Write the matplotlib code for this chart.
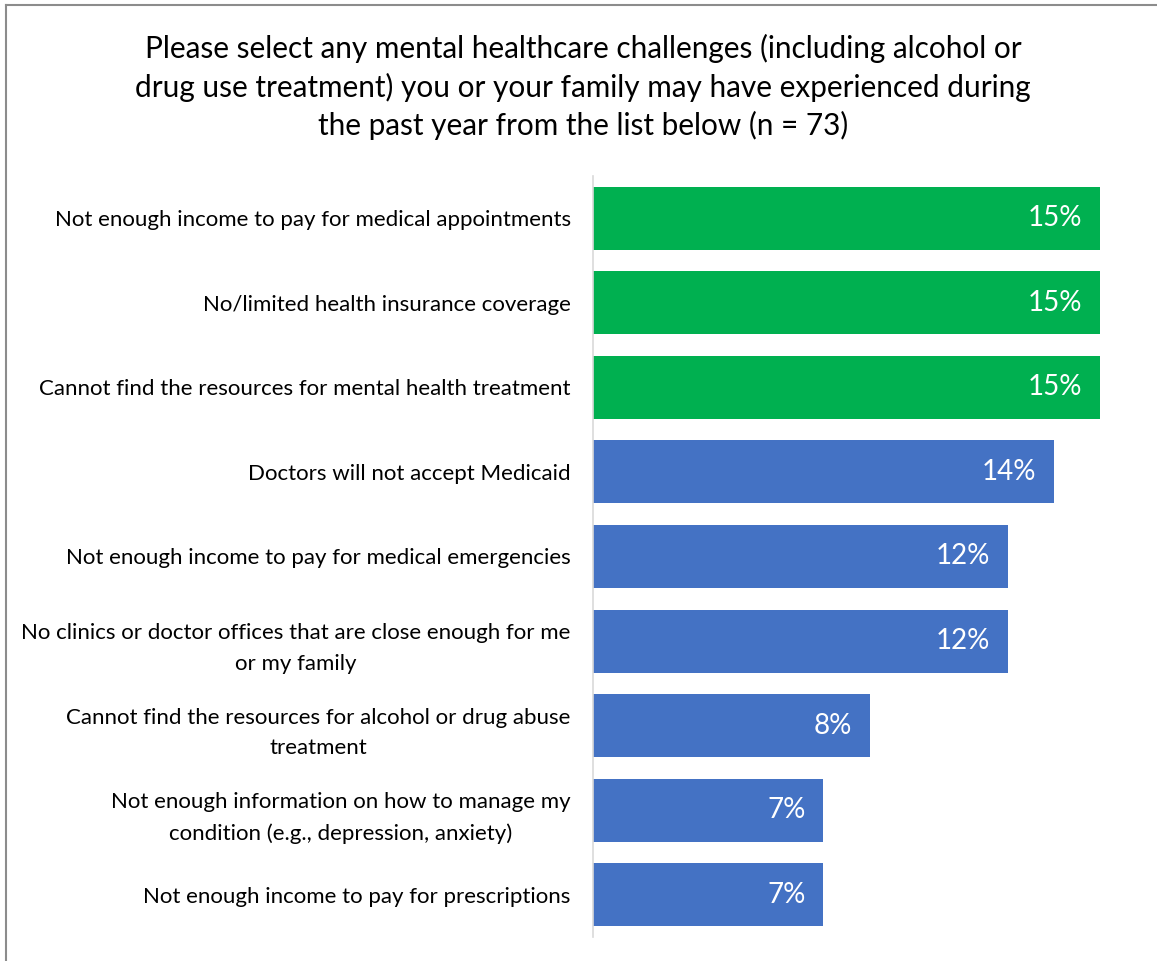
import matplotlib
matplotlib.use("Agg")
import matplotlib.pyplot as plt
from matplotlib.lines import Line2D

categories = [
    "Not enough income to pay for medical appointments",
    "No/limited health insurance coverage",
    "Cannot find the resources for mental health treatment",
    "Doctors will not accept Medicaid",
    "Not enough income to pay for medical emergencies",
    "No clinics or doctor offices that are close enough for me\nor my family",
    "Cannot find the resources for alcohol or drug abuse\ntreatment",
    "Not enough information on how to manage my\ncondition (e.g., depression, anxiety)",
    "Not enough income to pay for prescriptions",
]
values = [15.07, 15.07, 15.07, 13.70, 12.33, 12.33, 8.22, 6.85, 6.85]
labels = ["15%", "15%", "15%", "14%", "12%", "12%", "8%", "7%", "7%"]
colors = ["#00B050"] * 3 + ["#4472C4"] * 6
title = ("Please select any mental healthcare challenges (including alcohol or\n"
         "drug use treatment) you or your family may have experienced during\n"
         "the past year from the list below (n = 73)")

plt.rcParams['font.family'] = ['Lato', 'DejaVu Sans']

W, H = 1157, 961
fig = plt.figure(figsize=(W / 100, H / 100), dpi=100)

ax_l, ax_r = 593, 1100
ax_t, ax_b = 176, 937
ax = fig.add_axes([ax_l / W, 1 - ax_b / H, (ax_r - ax_l) / W, (ax_b - ax_t) / H])

n = len(categories)
ypos = list(range(n))
ax.barh(ypos, values, height=0.745, color=colors)
ax.set_ylim(n - 0.5, -0.5)
ax.set_xlim(0, max(values))

for y, v, lab in zip(ypos, values, labels):
    ax.text(v - 0.52, y, lab, ha="right", va="center", color="white", fontsize=20)

ax.set_yticks(ypos)
ax.set_yticklabels(categories, fontsize=16, ha="right", linespacing=1.68,
                   multialignment="center", color="#000000")
ax.tick_params(axis="y", length=0, pad=16)
ax.set_xticks([])
for s in ["top", "right", "bottom"]:
    ax.spines[s].set_visible(False)
ax.spines["left"].set_color("#D9D9D9")
ax.spines["left"].set_linewidth(1.2)

fig.text(583 / W, 1 - 87 / H, title, ha="center", va="center", fontsize=21.4,
         linespacing=1.4, color="#000000")

# frame border (left and top)
fig.add_artist(Line2D([6 / W, 6 / W], [0, 1 - 5 / H], transform=fig.transFigure,
                      color="#8C8C8C", lw=1.5))
fig.add_artist(Line2D([6 / W, 1], [1 - 5 / H, 1 - 5 / H], transform=fig.transFigure,
                      color="#8C8C8C", lw=1.5))

fig.savefig("out.png", dpi=100)
